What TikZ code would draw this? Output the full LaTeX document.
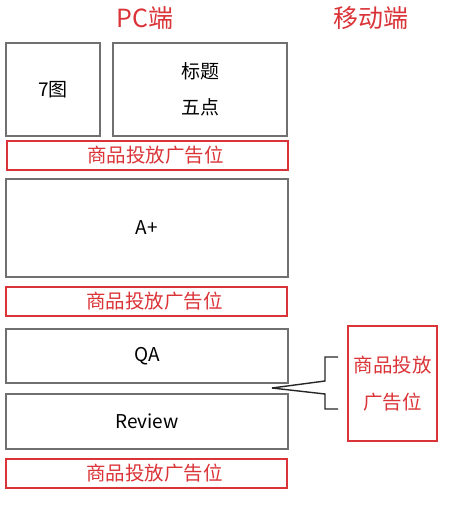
\documentclass[tikz,border=0pt]{standalone}
\usepackage{fontspec}
\setmainfont{Noto Sans CJK SC}
\definecolor{adred}{RGB}{218,52,56}
\definecolor{boxgray}{RGB}{112,112,112}
\tikzset{
  pcbox/.style={draw=boxgray, line width=1.6pt, inner sep=0pt, font=\fontsize{19}{36}\selectfont, align=center},
  adbox/.style={draw=adred, line width=1.6pt, inner sep=0pt, text=adred, font=\fontsize{19.5}{37}\selectfont, align=center},
  adbar/.style={adbox, minimum width=281, minimum height=29, execute at begin node=\hspace*{16pt}},
  heading/.style={text=adred, font=\fontsize{25}{28}\selectfont},
}
\begin{document}
\begin{tikzpicture}[x=1pt, y=-1pt]
  \useasboundingbox (0,0) rectangle (459,508);
  % headings
  \node[heading] (pc) at (145,18) {PC端};
  \node[heading] (mobile) at (371,18) {移动端};
  % PC page
  \node[pcbox, minimum width=94, minimum height=93] (pics) at (53,89.5) {7图};
  \node[pcbox, minimum width=174, minimum height=93] (title) at (200,89.5) {标题\\五点};
  \node[adbar] (ad1) at (147.5,155.5) {商品投放广告位};
  \node[pcbox, minimum width=282, minimum height=98] (aplus) at (147,228) {A+};
  \node[adbar] (ad2) at (146.5,301.5) {商品投放广告位};
  \node[pcbox, minimum width=282, minimum height=54] (qa) at (147,356) {QA};
  \node[pcbox, minimum width=282, minimum height=55] (review) at (147,421.5) {Review};
  \node[adbar] (ad3) at (146.5,473.5) {商品投放广告位};
  % mobile page
  \node[adbox, minimum width=89, minimum height=115] (mad) at (392.5,383.5) {商品投放\\广告位};
  % bracket
  \coordinate (tip) at (272,388);
  \coordinate (up) at (338,357);
  \coordinate (down) at (338,409);
  \begin{scope}[line width=1.4pt, black!85]
    \draw (tip) -- (325,381) |- (up);
    \draw (tip) -- (325,394) |- (down);
  \end{scope}
\end{tikzpicture}
\end{document}
